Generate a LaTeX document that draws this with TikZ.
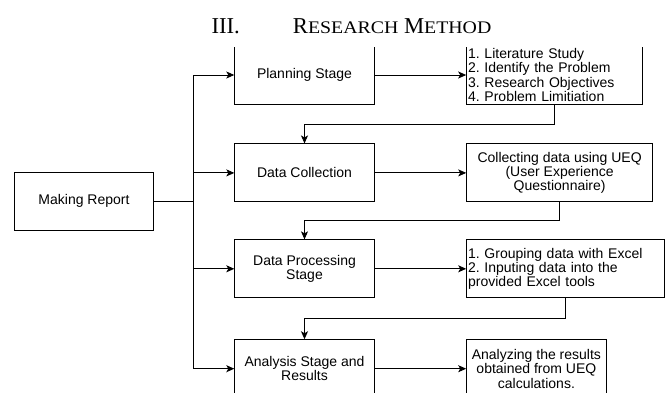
\documentclass[tikz,border=0pt]{standalone}
\usepackage{fontspec}
\setmainfont{Liberation Serif}
\setsansfont{Liberation Sans}
\usetikzlibrary{positioning, arrows.meta}

\newcommand{\smallcap}[1]{{\fontsize{17.7}{20}\selectfont\scalebox{1.12}[1]{#1}}}

\begin{document}
\frenchspacing
\begin{tikzpicture}[x=1pt, y=1pt, node distance=39pt,
		stage/.style={draw, line width=0.9pt, minimum width=139.5pt, minimum height=58pt, inner sep=1.5pt, align=center, font=\sffamily\fontsize{14}{14.4}\selectfont},
		note/.style={stage, text width=#1, align=left},
		link/.style={line width=0.9pt, -{Stealth[length=8pt, width=7pt, inset=2pt]}}]
			\useasboundingbox (0,0) rectangle (665,-392);
			\node[anchor=base west, font=\fontsize{22.7}{24}\selectfont] (title) at (208,-33) {III.\hspace{53pt}R\smallcap{ESEARCH} M\smallcap{ETHOD}};
			
			\begin{scope}
			\clip (0,-47.5) rectangle (665,-392);
			\node[stage] (plan) at (304.5,-75) {Planning Stage};
			\node[stage, below=of plan] (collect) {Data Collection};
			\node[stage, below=37pt of collect] (process) {Data Processing\\Stage};
			\node[stage, below=41pt of process] (analysis) {Analysis Stage and\\Results};
			\node[stage] (report) at (84,-201) {Making Report};
			
			\node[note=173pt, right=91.5pt of plan] (steps) {1. Literature Study\\2. Identify the Problem\\3. Research Objectives\\4. Problem Limitiation};
			\node[stage, minimum width=186pt, right=91.5pt of collect] (survey) {Collecting data using UEQ\\(User Experience\\Questionnaire)};
			\node[note=195pt, right=91.5pt of process] (tools) {1. Grouping data with Excel\\2. Inputing data into the\\provided Excel tools};
			\node[stage, right=91.5pt of analysis] (results) {Analyzing the results\\obtained from UEQ\\calculations.};
			
			\draw[line width=0.9pt] (report.east) -- ++(39.5,0) coordinate (fork);
			\draw[link] (fork) |- (plan);
			\draw[link] (fork) |- (collect);
			\draw[link] (fork) |- (process);
			\draw[link] (fork) |- (analysis);
			
			\draw[link] (plan) -- (steps);
			\draw[link] (collect) -- (survey);
			\draw[link] (process) -- (tools);
			\draw[link] (analysis) -- (results);
			
			\draw[link] (steps.south) -- ++(0,-20) -| (collect.north);
			\draw[link] (survey.south) -- ++(0,-18) -| (process.north);
			\draw[link] (tools.south) -- ++(0,-20) -| (analysis.north);
			\end{scope}
		\end{tikzpicture}
\end{document}
